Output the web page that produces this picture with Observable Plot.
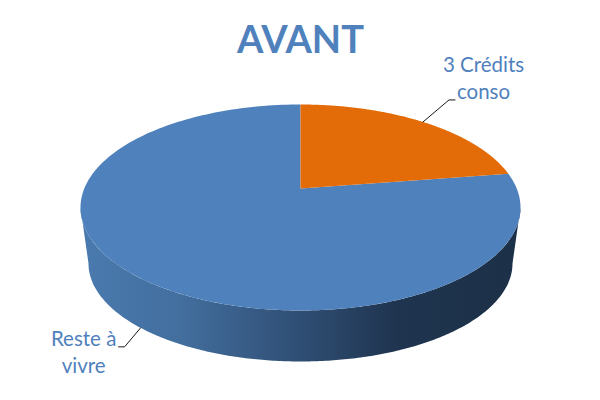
<!DOCTYPE html>
<html>
<head>
<meta charset="utf-8">
<script src="https://cdn.jsdelivr.net/npm/d3@7"></script>
<script src="https://cdn.jsdelivr.net/npm/@observablehq/plot@0.6"></script>
<style>html,body{margin:0;padding:0;background:#fff}svg{display:block}</style>
</head>
<body>
<script>
// Data
const chartTitle = "AVANT";
const sliceNames = ["3 Crédits\nconso", "Reste à\nvivre"];
const sliceValues = [19.7, 80.3];
const sliceColors = ["#e36c09", "#4f81bd"];

// Layout of the tilted pie, in the page's 600×400 space
const top3d = {cx: 300, cy: 207, rx: 220, ry: 103, apexY: 188};
const base3d = {cx: 300, cy: 263, rx: 212, ry: 98};
const leaderPos = [0.094, 0.636];
const total = d3.sum(sliceValues);
const bounds = d3.cumsum([0, ...sliceValues]).map(v => v / total);

const rim = (e, f) => {
  const a = f * 2 * Math.PI;
  return {x: e.cx + e.rx * Math.sin(a), y: e.cy - e.ry * Math.cos(a)};
};
const samples = (a, b, n = 240) => d3.range(n + 1).map(i => a + (b - a) * i / n);
const slicePts = (a, b) => [{x: top3d.cx, y: top3d.apexY}, ...samples(a, b).map(f => rim(top3d, f))];
const sidePts = [
  ...samples(0.25, 0.75).map(f => rim(top3d, f)),
  ...samples(0.75, 0.25).map(f => rim(base3d, f))
];

const a1 = rim(top3d, leaderPos[0]);
const a2 = rim(base3d, leaderPos[1]);
const leaders = [
  [a1, {x: a1.x + 26, y: a1.y - 22}, {x: a1.x + 32, y: a1.y - 22}],
  [a2, {x: a2.x - 16, y: a2.y + 19}, {x: a2.x - 22, y: a2.y + 19}]
];
const labels = [
  {text: sliceNames[0], x: a1.x + 60.5, y: a1.y - 23},
  {text: sliceNames[1], x: a2.x - 57, y: a2.y + 45}
];

const gradient = () => {
  const defs = d3.create("svg:defs");
  const g = defs.append("linearGradient").attr("id", "side")
    .attr("gradientUnits", "userSpaceOnUse")
    .attr("x1", base3d.cx - top3d.rx).attr("x2", base3d.cx + top3d.rx).attr("y1", 0).attr("y2", 0);
  [[0, "#4a7aaf"], [0.22, "#436f9f"], [0.5, "#2f4e74"], [0.72, "#1f344f"], [1, "#1c3047"]]
    .forEach(([o, c]) => g.append("stop").attr("offset", o).attr("stop-color", c));
  return defs.node();
};

const chart = Plot.plot({
  width: 600,
  height: 400,
  margin: 0,
  x: {domain: [0, 600], range: [0, 600], axis: null},
  y: {domain: [0, 400], range: [0, 400], axis: null},
  style: {background: "#fff"},
  marks: [
    gradient,
    Plot.line(sidePts, {x: "x", y: "y", fill: "url(#side)", stroke: "none"}),
    Plot.line(slicePts(bounds[1], bounds[2]), {x: "x", y: "y", fill: sliceColors[1], stroke: "none"}),
    Plot.line(slicePts(bounds[0], bounds[1]), {x: "x", y: "y", fill: sliceColors[0], stroke: "none"}),
    ...leaders.map(l => Plot.line(l, {x: "x", y: "y", stroke: "#1a1a1a", strokeWidth: 1})),
    Plot.text(labels, {
      x: "x", y: "y", text: "text", fill: "#4f81bd", stroke: "none",
      fontFamily: "Lato", fontSize: 20.5, lineHeight: 1.32, textAnchor: "middle", lineAnchor: "bottom"
    }),
    Plot.text([chartTitle], {
      x: () => 300, y: () => 52, text: d => d, fill: "#4f81bd", stroke: "none",
      fontFamily: "Lato", fontWeight: 700, fontSize: 38, textAnchor: "middle", lineAnchor: "bottom"
    })
  ]
});
document.body.appendChild(chart);
</script>
</body>
</html>
